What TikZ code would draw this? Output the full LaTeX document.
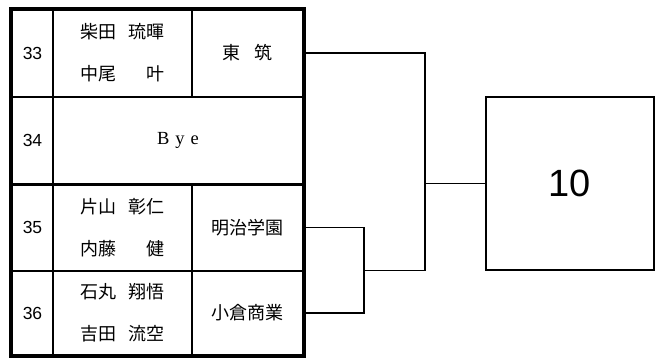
\documentclass[tikz,border=0pt]{standalone}
\usepackage{fontspec}
\setmainfont{Liberation Sans}
\newfontfamily\JpFont{Noto Sans CJK JP}
\newfontfamily\ByeFont{Liberation Serif}
\usetikzlibrary{calc}

\begin{document}
\begin{tikzpicture}[x=1pt,y=-1pt,
  Cell/.style={draw,line width=1.5pt,inner sep=0pt,minimum height=87pt},
  NumCell/.style={Cell,minimum width=41pt,font=\fontsize{17.5pt}{17.5pt}\selectfont},
  NameCell/.style={Cell,minimum width=139pt,align=center,font=\JpFont\fontsize{18pt}{42pt}\selectfont},
  SchoolCell/.style={Cell,minimum width=111pt,font=\JpFont\fontsize{18pt}{18pt}\selectfont},
  Link/.style={line width=1.6pt}]
\useasboundingbox (0,0) rectangle (662,357);

% table
\node[NumCell] (n33) at (32.5,53) {33};
\node[NameCell] (p33) at (122.5,53) {柴田\hspace{13pt}琉暉\\中尾\hspace{30pt}叶};
\node[SchoolCell] (s33) at (247.5,53) {東\hspace{14pt}筑};

\node[NumCell] (n34) at (32.5,140.5) {34};
\node[Cell,minimum width=250pt,font=\ByeFont\fontsize{18.5pt}{18.5pt}\selectfont] (bye) at (178,140.5) {B\hspace{6pt}y\hspace{6pt}e};

\node[NumCell] (n35) at (32.5,227.5) {35};
\node[NameCell] (p35) at (122.5,227.5) {片山\hspace{13pt}彰仁\\内藤\hspace{30pt}健};
\node[SchoolCell] (s35) at (247.5,227.5) {明治学園};

\node[NumCell,minimum height=84pt] (n36) at (32.5,313) {36};
\node[NameCell,minimum height=84pt] (p36) at (122.5,313) {石丸\hspace{13pt}翔悟\\吉田\hspace{13pt}流空};
\node[SchoolCell,minimum height=84pt] (s36) at (247.5,313) {小倉商業};

\draw[line width=2.5pt] (n34.south west) -- (bye.south east);
\draw[line width=3.8pt] (n33.north west) rectangle (s36.south east);

% bracket
\coordinate (j33) at (425,270.5);
\coordinate (j35) at (364,270.5);
\draw[Link] (s35.east) -| (j35) |- (s36.east);
\draw[Link] (s33.east) -| (j33) -- (j35);

\node[draw,line width=1.8pt,minimum width=168pt,minimum height=173pt,font=\fontsize{38pt}{38pt}\selectfont] (r10) at (570,183.5) {10};
\draw[Link] (j33 |- r10.west) -- (r10.west);

\end{tikzpicture}
\end{document}
